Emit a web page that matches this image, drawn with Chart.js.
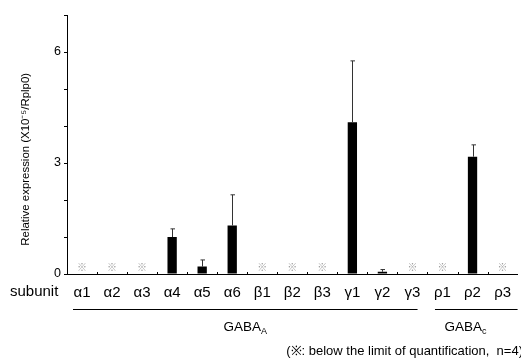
<!DOCTYPE html>
<html>
<head>
<meta charset="utf-8">
<script src="https://cdn.jsdelivr.net/npm/chart.js@4"></script>
<style>
  html, body { margin: 0; padding: 0; background: #fff; }
  #wrap { width: 521px; height: 359px; position: relative; }
</style>
</head>
<body>
<div id="wrap"><canvas id="chart"></canvas></div>
<script>
const categories = ['α1', 'α2', 'α3', 'α4', 'α5', 'α6', 'β1', 'β2', 'β3', 'γ1', 'γ2', 'γ3', 'ρ1', 'ρ2', 'ρ3'];
const means      = [null, null, null, 1.0, 0.2, 1.31, null, null, null, 4.1, 0.06, null, null, 3.17, null];
const errors     = [null, null, null, 0.22, 0.18, 0.83, null, null, null, 1.66, 0.06, null, null, 0.32, null];
const belowLimit = [true, true, true, false, false, false, true, true, true, false, false, true, true, false, true];
const yLabelTicks = [0, 3, 6];
const groupNames = ['GABA', 'GABA'];
const groupSubs  = ['A', 'c'];
const groupFrom  = [0, 12];
const groupTo    = [11, 14];
const yTitle = 'Relative expression (X10⁻⁵/Rplp0)';
const footnote = '(※: below the limit of quantification,  n=4)';

const FONT = '"Liberation Sans", Arial, sans-serif';

const extras = {
    id: 'extras',
    afterDatasetsDraw(chart) {
        const ctx = chart.ctx;
        const x = chart.scales.x;
        const y = chart.scales.y;
        const w = x.getPixelForValue(1) - x.getPixelForValue(0);
        const y0 = y.getPixelForValue(0);
        ctx.save();

        // error bars (upper only)
        ctx.strokeStyle = '#333';
        ctx.lineWidth = 1;
        means.forEach((m, i) => {
            if (m == null || errors[i] == null) return;
            const cx = Math.round(x.getPixelForValue(i)) + 0.5;
            const top = y.getPixelForValue(m + errors[i]);
            ctx.beginPath();
            ctx.moveTo(cx, y.getPixelForValue(m));
            ctx.lineTo(cx, top);
            ctx.moveTo(cx - 2, top);
            ctx.lineTo(cx + 2.5, top);
            ctx.stroke();
        });

        // below limit marks
        ctx.fillStyle = '#999';
        ctx.font = '10px "Noto Sans CJK JP", "DejaVu Sans", sans-serif';
        ctx.textAlign = 'center';
        ctx.textBaseline = 'middle';
        belowLimit.forEach((b, i) => {
            if (b) ctx.fillText('※', x.getPixelForValue(i), y.getPixelForValue(0.19));
        });

        // small ticks between categories, pointing up
        ctx.strokeStyle = '#000';
        for (let i = 0; i < categories.length - 1; i++) {
            const bx = Math.round(x.getPixelForValue(i) + w / 2) + 0.5;
            ctx.beginPath();
            ctx.moveTo(bx, y0);
            ctx.lineTo(bx, y0 - 2);
            ctx.stroke();
        }

        ctx.fillStyle = '#000';

        // y axis title
        ctx.save();
        ctx.font = '11px ' + FONT;
        const tlen = ctx.measureText(yTitle).width;
        const fs = 11 * 173 / tlen;
        ctx.font = fs.toFixed(2) + 'px ' + FONT;
        ctx.translate(26, y.getPixelForValue(3.1));
        ctx.rotate(-Math.PI / 2);
        ctx.textAlign = 'center';
        ctx.fillText(yTitle, 0, 0);
        ctx.restore();

        // "subunit"
        ctx.font = '15px ' + FONT;
        ctx.textAlign = 'left';
        ctx.fillText('subunit', 10, y0 + 18);

        // group lines and labels
        const lineY = y0 + 35.5;
        const startOff = [-0.3, -0.25];
        const endOff = [0.17, 0.5];
        groupNames.forEach((name, g) => {
            const a = x.getPixelForValue(groupFrom[g]) + startOff[g] * w;
            const b = x.getPixelForValue(groupTo[g]) + endOff[g] * w;
            ctx.beginPath();
            ctx.moveTo(a, lineY);
            ctx.lineTo(b, lineY);
            ctx.stroke();
            const mid = x.getPixelForValue((groupFrom[g] + groupTo[g]) / 2) - (g === 1 ? 7 : 2);
            ctx.font = '13.5px ' + FONT;
            const tw = ctx.measureText(name).width;
            ctx.font = '9px ' + FONT;
            const sw = ctx.measureText(groupSubs[g]).width;
            const left = mid - (tw + sw) / 2;
            ctx.font = '13.5px ' + FONT;
            ctx.textAlign = 'left';
            ctx.fillText(name, left, lineY + 18);
            ctx.font = '9px ' + FONT;
            ctx.fillText(groupSubs[g], left + tw, lineY + 22);
        });

        // footnote
        ctx.font = '13px ' + FONT;
        ctx.textAlign = 'right';
        ctx.fillText(footnote, chart.width + 2, chart.height - 8);
        ctx.restore();
    }
};

new Chart(document.getElementById('chart'), {
    type: 'bar',
    data: {
        labels: categories,
        datasets: [{
            data: means,
            backgroundColor: '#000',
            borderWidth: 0,
            barPercentage: 0.31,
            categoryPercentage: 1.0
        }]
    },
    options: {
        responsive: true,
        maintainAspectRatio: false,
        animation: false,
        devicePixelRatio: 1,
        layout: { padding: { left: 0, right: 0, top: 15, bottom: 0 } },
        plugins: {
            legend: { display: false },
            tooltip: { enabled: false }
        },
        scales: {
            x: {
                offset: true,
                grid: { display: false, drawTicks: false },
                border: { display: true, color: '#000', width: 1 },
                ticks: {
                    color: '#000',
                    font: { size: 15, family: FONT },
                    padding: 10,
                    maxRotation: 0,
                    autoSkip: false
                },
                afterFit(scale) { scale.height = 85; }
            },
            y: {
                min: 0,
                max: 7,
                grid: { drawOnChartArea: false, tickLength: 3, tickColor: '#000' },
                border: { display: true, color: '#000', width: 1 },
                ticks: {
                    stepSize: 1,
                    color: '#000',
                    padding: 3,
                    font: { size: 12.5, family: FONT },
                    callback: v => yLabelTicks.includes(v) ? String(v) : ''
                },
                afterFit(scale) { scale.width = 67; }
            }
        }
    },
    plugins: [extras]
});
</script>
</body>
</html>
